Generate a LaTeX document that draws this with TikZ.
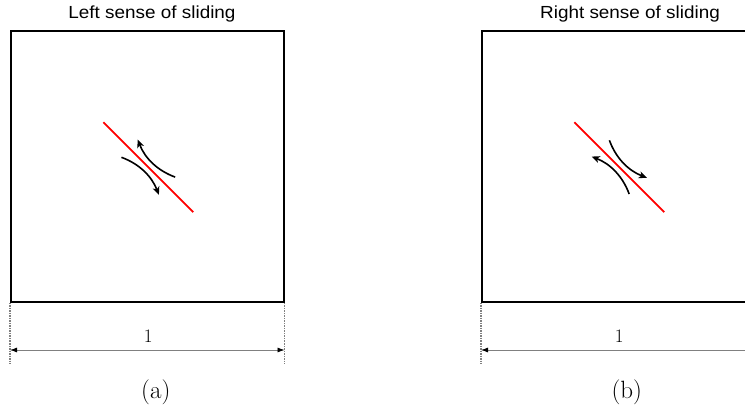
\documentclass[tikz,border=0pt]{standalone}
\usepackage{fontspec}
\newfontfamily\titlefont{Liberation Sans}
\usetikzlibrary{arrows.meta}
\begin{document}
\begin{tikzpicture}[x=1pt,y=1pt,
  frame/.style={draw=black, line width=2pt, inner sep=0pt, minimum width=272.5pt, minimum height=271pt},
  fault/.style={draw=red, line width=1.8pt},
  slip/.style={draw=black, line width=1.6pt, -{Stealth[length=8pt,width=7pt,inset=2.2pt]}},
  dimline/.style={draw=gray, line width=0.8pt, {Latex[length=7pt,width=5pt,black]}-{Latex[length=7pt,width=5pt,black]}},
  ext/.style={draw=gray, line width=1.2pt, dash pattern=on 1.5pt off 1pt},
  ttl/.style={font=\titlefont\fontsize{17.5}{20}\selectfont, anchor=base, xscale=1.08, transform shape},
  dimlab/.style={font=\fontsize{19}{22}\selectfont, anchor=base},
  subcap/.style={font=\fontsize{25}{30}\selectfont, anchor=base}]
\clip (0,0) rectangle (745,-414);
% ---------- panel (a)
\node[ttl] (ta) at (152,-18.3) {Left sense of sliding};
\node[frame] (boxa) at (147.25,-166.5) {};
\coordinate (a-x1) at ([yshift=-61pt]boxa.south west);
\coordinate (a-x2) at ([yshift=-61pt]boxa.south east);
\draw[ext] (boxa.south west) -- (a-x1);
\draw[ext] (boxa.south east) -- (a-x2);
\coordinate (a-d1) at ([yshift=-47pt]boxa.south west);
\coordinate (a-d2) at ([yshift=-47pt]boxa.south east);
\draw[dimline] (a-d1) -- (a-d2);
\node[dimlab] (la) at (148.3,-342.5) {1};
\node[subcap] (ca) at (155.8,-399) {(a)};
\begin{scope}[shift={(148.3,-167.2)}, x={(0.7071pt,-0.7071pt)}, y={(0.7071pt,0.7071pt)}]
  \coordinate (a-f1) at (-63.6,0);
  \coordinate (a-f2) at (63.6,0);
  \draw[fault] (a-f1) -- (a-f2);
  \coordinate (a-s1) at (26,12);
  \coordinate (a-e1) at (-27,12);
  \draw[slip] (a-s1) .. controls (8.67,4) and (-8.67,4) .. (a-e1);
  \coordinate (a-s2) at (-26,-12);
  \coordinate (a-e2) at (27,-12);
  \draw[slip] (a-s2) .. controls (-8.67,-4) and (8.67,-4) .. (a-e2);
\end{scope}
% ---------- panel (b)
\node[ttl] (tb) at (630,-18.3) {Right sense of sliding};
\node[frame] (boxb) at (618.25,-166.5) {};
\coordinate (b-x1) at ([yshift=-61pt]boxb.south west);
\draw[ext] (boxb.south west) -- (b-x1);
\coordinate (b-d1) at ([yshift=-47pt]boxb.south west);
\coordinate (b-d2) at ([yshift=-47pt]boxb.south east);
\draw[dimline] (b-d1) -- (b-d2);
\node[dimlab] (lb) at (619.3,-342.5) {1};
\node[subcap] (cb) at (626.8,-399) {(b)};
\begin{scope}[shift={(619.3,-167.2)}, x={(0.7071pt,-0.7071pt)}, y={(0.7071pt,0.7071pt)}]
  \coordinate (b-f1) at (-63.6,0);
  \coordinate (b-f2) at (63.6,0);
  \draw[fault] (b-f1) -- (b-f2);
  \coordinate (b-s1) at (-26,12);
  \coordinate (b-e1) at (27,12);
  \draw[slip] (b-s1) .. controls (-8.67,4) and (8.67,4) .. (b-e1);
  \coordinate (b-s2) at (26,-12);
  \coordinate (b-e2) at (-27,-12);
  \draw[slip] (b-s2) .. controls (8.67,-4) and (-8.67,-4) .. (b-e2);
\end{scope}
\end{tikzpicture}
\end{document}
